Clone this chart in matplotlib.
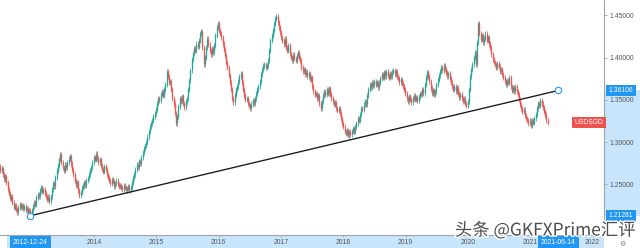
import numpy as np
import pandas as pd
import matplotlib
matplotlib.use("Agg")
import matplotlib.pyplot as plt
import matplotlib.dates as mdates
from matplotlib.patches import Rectangle
from matplotlib.ticker import FixedLocator, FuncFormatter
import matplotlib.patheffects as pe

plt.rcParams['font.family'] = ['Liberation Sans', 'DejaVu Sans']

# ── weekly USDSGD closes ─────────────────────────────────────────────────────
START = "2012-06-25"  # first weekly bar (Monday)

closes_2012 = [1.271, 1.266, 1.269, 1.262, 1.256, 1.259, 1.252, 1.244, 1.239, 1.233,
               1.236, 1.228, 1.222, 1.225, 1.220, 1.217, 1.222, 1.226, 1.223, 1.225,
               1.221, 1.224, 1.219, 1.221, 1.217, 1.219, 1.216]
closes_2013 = [1.219, 1.224, 1.229, 1.226, 1.234, 1.238, 1.236, 1.243, 1.246, 1.241,
               1.244, 1.239, 1.236, 1.232, 1.235, 1.230, 1.236, 1.244, 1.251, 1.248,
               1.258, 1.266, 1.272, 1.279, 1.285, 1.276, 1.270, 1.266, 1.273, 1.270,
               1.276, 1.280, 1.283, 1.274, 1.267, 1.262, 1.254, 1.249, 1.252, 1.243,
               1.237, 1.240, 1.246, 1.248, 1.252, 1.249, 1.255, 1.257, 1.262, 1.266,
               1.270, 1.276]
closes_2014 = [1.282, 1.279, 1.286, 1.281, 1.276, 1.279, 1.272, 1.268, 1.265, 1.271,
               1.268, 1.262, 1.258, 1.254, 1.251, 1.256, 1.253, 1.248, 1.251, 1.254,
               1.250, 1.247, 1.249, 1.246, 1.244, 1.248, 1.246, 1.243, 1.245, 1.247,
               1.243, 1.246, 1.252, 1.258, 1.262, 1.268, 1.273, 1.270, 1.277, 1.275,
               1.282, 1.288, 1.292, 1.296, 1.299, 1.306, 1.313, 1.318, 1.322, 1.326,
               1.330, 1.334]
closes_2015 = [1.338, 1.346, 1.352, 1.349, 1.356, 1.360, 1.355, 1.362, 1.368, 1.384,
               1.378, 1.370, 1.372, 1.362, 1.352, 1.345, 1.334, 1.322, 1.330, 1.342,
               1.352, 1.348, 1.354, 1.346, 1.341, 1.348, 1.352, 1.362, 1.373, 1.385,
               1.398, 1.405, 1.411, 1.408, 1.416, 1.413, 1.420, 1.428, 1.431, 1.412,
               1.392, 1.400, 1.412, 1.422, 1.415, 1.408, 1.404, 1.411, 1.406, 1.414,
               1.426, 1.436]
closes_2016 = [1.440, 1.432, 1.428, 1.424, 1.416, 1.409, 1.402, 1.394, 1.388, 1.379,
               1.370, 1.362, 1.352, 1.347, 1.356, 1.362, 1.366, 1.372, 1.378, 1.381,
               1.370, 1.362, 1.355, 1.350, 1.352, 1.346, 1.343, 1.340, 1.345, 1.349,
               1.346, 1.352, 1.357, 1.362, 1.366, 1.372, 1.380, 1.386, 1.390, 1.392,
               1.388, 1.391, 1.396, 1.408, 1.420, 1.426, 1.432, 1.440, 1.446, 1.449,
               1.442, 1.436]
closes_2017 = [1.430, 1.424, 1.420, 1.416, 1.422, 1.412, 1.408, 1.414, 1.405, 1.400,
               1.397, 1.403, 1.399, 1.396, 1.402, 1.406, 1.400, 1.396, 1.388, 1.384,
               1.386, 1.380, 1.383, 1.378, 1.381, 1.374, 1.376, 1.366, 1.360, 1.356,
               1.358, 1.352, 1.355, 1.346, 1.340, 1.348, 1.355, 1.360, 1.356, 1.362,
               1.358, 1.363, 1.356, 1.352, 1.348, 1.344, 1.347, 1.340, 1.337, 1.340,
               1.334, 1.328]
closes_2018 = [1.322, 1.318, 1.312, 1.310, 1.314, 1.308, 1.312, 1.309, 1.313, 1.316,
               1.312, 1.318, 1.322, 1.328, 1.325, 1.333, 1.340, 1.338, 1.344, 1.348,
               1.345, 1.355, 1.362, 1.368, 1.365, 1.370, 1.367, 1.372, 1.368, 1.371,
               1.365, 1.370, 1.375, 1.380, 1.376, 1.382, 1.378, 1.384, 1.379, 1.376,
               1.381, 1.378, 1.383, 1.385, 1.380, 1.384, 1.378, 1.375, 1.371, 1.374,
               1.369, 1.366]
closes_2019 = [1.362, 1.358, 1.352, 1.348, 1.354, 1.350, 1.347, 1.352, 1.355, 1.350,
               1.353, 1.349, 1.354, 1.358, 1.356, 1.362, 1.358, 1.368, 1.376, 1.382,
               1.378, 1.372, 1.364, 1.358, 1.361, 1.356, 1.360, 1.368, 1.374, 1.379,
               1.384, 1.388, 1.385, 1.391, 1.386, 1.382, 1.378, 1.381, 1.375, 1.370,
               1.366, 1.362, 1.366, 1.360, 1.364, 1.357, 1.353, 1.356, 1.352, 1.348,
               1.351, 1.346]
closes_2020 = [1.343, 1.348, 1.362, 1.378, 1.386, 1.392, 1.400, 1.406, 1.392, 1.418,
               1.440, 1.428, 1.421, 1.426, 1.418, 1.422, 1.428, 1.420, 1.424, 1.416,
               1.412, 1.404, 1.398, 1.394, 1.392, 1.388, 1.393, 1.389, 1.384, 1.386,
               1.380, 1.376, 1.372, 1.368, 1.373, 1.370, 1.376, 1.366, 1.361, 1.365,
               1.360, 1.366, 1.360, 1.356, 1.350, 1.344, 1.340, 1.336, 1.338, 1.331,
               1.328, 1.326]
closes_2021 = [1.322, 1.325, 1.320, 1.326, 1.323, 1.328, 1.333, 1.340, 1.346, 1.343,
               1.349, 1.345, 1.341, 1.336, 1.332, 1.326, 1.323]

WICK = 0.003  # shadow length beyond the body

# trend line anchors
trend_dates = ["2012-12-24", "2021-06-14"]
trend_prices = [1.21281, 1.36106]

year_ticks = [str(y) for y in range(2014, 2023)]
price_ticks = [1.25, 1.30, 1.35, 1.40, 1.45]

UP, DOWN = "#26a69a", "#ef5350"
BLUE = "#2196f3"
LIGHT = "#c8e5fc"
GREY = "#555555"

# ── build candles ─────────────────────────────────────────────────────────────
close = np.array(closes_2012 + closes_2013 + closes_2014 + closes_2015 + closes_2016 +
                 closes_2017 + closes_2018 + closes_2019 + closes_2020 + closes_2021)
opn = np.r_[close[0] + 0.002, close[:-1]]
dates = pd.date_range(START, periods=len(close), freq="7D")
xd = mdates.date2num(dates.to_pydatetime())
top = np.maximum(opn, close)
bot = np.minimum(opn, close)
cols = np.where(close >= opn, UP, DOWN)

# ── figure ────────────────────────────────────────────────────────────────────
W, H = 640, 248
fig = plt.figure(figsize=(W / 100, H / 100), dpi=100)
fig.patch.set_facecolor("white")
ax = fig.add_axes([0, 13 / H, 604 / W, 235 / H])

ax.vlines(xd, bot - WICK, top + WICK, colors=cols, lw=0.55, zorder=2)
ax.vlines(xd, bot, top + 0.0004, colors=cols, lw=0.95, zorder=2)

td = mdates.date2num(pd.to_datetime(trend_dates).to_pydatetime())
ax.plot(td, trend_prices, color="#131722", lw=0.95, zorder=3, solid_capstyle="butt")
ax.plot(td, trend_prices, ls="none", marker="o", ms=4.6, mfc="white", mec=BLUE,
        mew=0.8, zorder=4)

# axis limits: 2013-01-01 sits ~31.7 px in, 62.33 px per year
x2013 = mdates.date2num(pd.Timestamp("2013-01-01"))
px_day = 62.33 / 365.25
ax.set_xlim(x2013 - 31.7 / px_day, x2013 + (604 - 31.7) / px_day)
ax.set_ylim(1.35 - 135.2 / 845, 1.35 + 99.8 / 845)

# spines / ticks
for s in ["top", "left"]:
    ax.spines[s].set_visible(False)
for s in ["bottom", "right"]:
    ax.spines[s].set_color("#a0a3ab")
    ax.spines[s].set_linewidth(0.8)

ax.yaxis.tick_right()
ax.yaxis.set_major_locator(FixedLocator(price_ticks))
ax.yaxis.set_major_formatter(FuncFormatter(lambda v, p: f"{v:.5f}"))
ax.xaxis.set_major_locator(FixedLocator(
    mdates.date2num(pd.to_datetime([f"{y}-01-01" for y in year_ticks]).to_pydatetime())))
ax.set_xticklabels(year_ticks)
ax.tick_params(axis="y", labelsize=4.9, colors="#a0a3ab", labelcolor=GREY,
               length=2, width=0.6, pad=2)
ax.tick_params(axis="x", labelsize=4.9, colors="#a0a3ab", labelcolor=GREY,
               length=1.5, width=0.6, pad=1.6)

# highlighted ranges on the scales
ax.add_patch(Rectangle((1.0, trend_prices[0]), (W - 604) / 604,
                       trend_prices[1] - trend_prices[0],
                       transform=ax.get_yaxis_transform(), clip_on=False,
                       fc=LIGHT, ec="none", zorder=1))
ax.add_patch(Rectangle((7 / 604, -13 / 235), 597 / 604, 13 / 235,
                       transform=ax.transAxes, clip_on=False,
                       fc=LIGHT, ec="none", zorder=1))

# price labels of the drawing
for p in trend_prices:
    ax.text(1.008, p, f"{p:.5f}", transform=ax.get_yaxis_transform(),
            ha="left", va="center", fontsize=4.9, color="white", zorder=6,
            bbox=dict(boxstyle="square,pad=0.35", fc=BLUE, ec="none"))
# date labels of the drawing
for d in trend_dates:
    ax.text(mdates.date2num(pd.Timestamp(d)), -7.5 / 235, d,
            transform=ax.get_xaxis_transform(), ha="center", va="center",
            fontsize=4.9, color="white", zorder=6,
            bbox=dict(boxstyle="square,pad=0.45", fc=BLUE, ec="none"))

# symbol label at last close
ax.text(0.999, close[-1], "USDSGD", transform=ax.get_yaxis_transform(),
        ha="right", va="center", fontsize=4.9, color="white", zorder=6,
        bbox=dict(boxstyle="square,pad=0.35", fc=DOWN, ec="none"))

# settings gear
fig.text(622 / W, (H - 243.5) / H, "\u2699", ha="center", va="center",
         fontsize=5, color="#787b86", family="DejaVu Sans")

# watermark
fig.text(636 / W, (H - 235.5) / H, "头条 @GKFXPrime汇评", ha="right", va="baseline",
         fontsize=12.5, color="#4d4d4d", family=["Noto Sans CJK SC", "DejaVu Sans"],
         path_effects=[pe.withStroke(linewidth=2, foreground="white")], zorder=10)

fig.savefig("out.png", dpi=100, facecolor="white")
